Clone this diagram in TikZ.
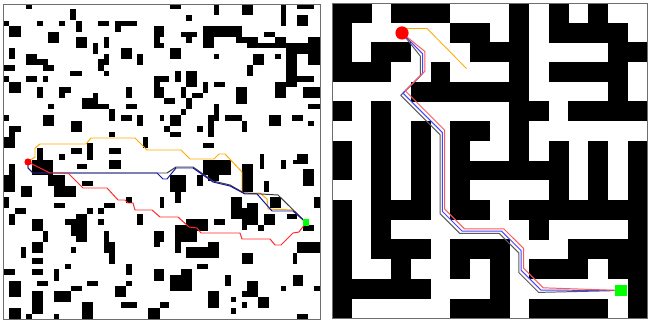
\documentclass[tikz,border=0pt]{standalone}
\usepackage{tikz}
\definecolor{PathOrange}{RGB}{255,170,0}
\definecolor{PathNavy}{RGB}{20,20,170}
\definecolor{PathGray}{RGB}{60,60,60}
\definecolor{PathRed}{RGB}{255,40,40}
\definecolor{MazeBlue}{RGB}{70,70,255}
\definecolor{MazeRed}{RGB}{255,90,90}
\definecolor{MazeGray}{RGB}{90,90,90}
\definecolor{StartRed}{RGB}{255,0,0}
\definecolor{GoalGreen}{RGB}{0,255,0}
\definecolor{FrameGray}{RGB}{110,110,110}

\begin{document}
\begin{tikzpicture}[
    x=0.025cm,y=-0.025cm,
    panelframe/.style={draw=FrameGray,line width=0.6pt},
    startdot/.style={circle,fill=StartRed,inner sep=0pt},
    goalbox/.style={rectangle,fill=GoalGreen,inner sep=0pt},
    route/.style={line width=0.7pt,line join=round}
  ]
  \useasboundingbox[fill=white] (0,0) rectangle (648,320);

  % left: random obstacles
  \foreach \xa/\ya/\xb/\yb in {
    26/4/32/9, 70/9/76/20, 3/21/9/26, 37/21/43/26, 59/21/65/26, 76/21/82/32,
    98/21/109/26, 115/21/137/26, 115/26/121/32, 9/26/21/37, 154/26/164/37,
    154/37/160/48, 48/32/59/43, 76/37/87/48, 104/37/109/48, 93/43/98/54,
    9/48/15/59, 121/48/132/59, 137/54/143/65, 26/54/37/65, 37/59/48/65,
    43/65/54/71, 104/54/109/65, 98/59/104/71, 3/65/15/71, 70/71/82/76,
    104/71/109/76, 3/76/9/82, 26/76/37/82, 43/76/48/82, 154/76/169/82,
    9/82/21/93, 154/82/160/98, 37/87/43/98, 59/87/65/98, 65/87/71/93,
    126/87/132/98, 93/93/98/104, 82/98/98/109, 98/104/109/109, 48/104/54/109,
    126/104/137/109, 109/109/115/121, 3/115/9/121, 43/115/54/126,
    121/115/132/121, 137/115/143/126, 71/121/82/132, 9/126/21/132,
    9/132/15/137, 3/137/15/148, 109/132/115/137, 143/137/148/148,
    87/143/93/160, 71/148/82/154, 109/148/121/154, 37/148/43/160,
    59/154/65/160,
    170/4/181/9, 214/4/219/15, 242/4/253/15, 281/4/286/26, 297/4/314/9,
    297/15/308/26, 186/15/192/21, 181/32/197/37, 186/37/192/43,
    203/26/242/37, 203/37/214/48, 236/37/258/43, 247/43/286/48,
    264/32/275/37, 275/37/286/43, 308/37/320/43, 160/43/164/48,
    170/48/181/59, 214/54/219/59, 253/54/264/65, 275/54/281/59,
    286/43/320/54, 286/54/297/87, 308/54/320/65, 297/76/314/82,
    247/65/253/76, 175/71/181/82, 186/71/197/87, 203/82/208/93,
    214/82/225/87, 160/87/164/98, 181/87/186/98, 192/93/203/98,
    236/87/247/104, 275/82/286/98, 303/87/320/98, 164/98/175/104,
    186/98/192/109, 181/109/186/115, 214/104/219/121, 208/115/214/137,
    308/104/320/109, 160/115/164/121, 170/115/181/126, 164/126/170/132,
    170/132/181/137, 225/115/242/121, 242/121/247/132, 269/115/281/126,
    292/115/303/121, 308/121/314/126, 197/126/203/132, 203/143/214/148,
    260/154/264/169, 297/154/308/164,
    32/160/53/175, 77/164/87/169, 109/160/121/169, 9/164/15/175,
    3/175/15/192, 48/175/65/186, 54/186/76/197, 82/181/93/186,
    21/186/32/197, 3/197/9/208, 54/203/65/208, 104/203/115/208,
    126/197/132/203, 87/208/93/214, 98/208/104/214, 9/214/15/225,
    15/208/26/214, 76/214/87/242, 65/219/76/225, 71/225/76/236,
    137/214/143/225, 32/219/43/231, 98/219/104/225, 43/231/48/242,
    104/231/109/253, 109/242/115/264, 154/231/160/247, 32/242/43/253,
    21/247/26/258, 71/247/76/253, 32/258/43/264, 65/264/71/269,
    126/264/132/275, 3/269/15/275, 32/269/43/275, 54/269/59/281,
    154/269/160/281, 37/281/48/286, 87/281/98/286, 9/281/21/297,
    126/281/132/286, 115/286/126/297, 71/286/82/291, 54/291/71/302,
    32/291/43/314, 121/302/137/308, 82/302/93/319, 9/308/21/319,
    26/314/32/319, 54/314/59/319, 148/308/160/319,
    203/160/231/175, 208/175/219/181, 281/160/286/169, 293/160/308/164,
    170/175/186/192, 175/192/181/203, 197/175/203/186, 242/164/253/192,
    264/181/269/192, 303/169/314/186, 160/197/164/208, 231/197/242/219,
    247/203/258/225, 242/208/247/230, 270/197/281/208, 314/197/320/208,
    264/214/275/225, 258/225/264/231, 287/214/297/219, 186/219/208/231,
    214/219/225/225, 175/225/197/242, 303/225/314/231, 160/231/164/242,
    297/242/320/253, 175/242/181/253, 186/247/219/258, 208/242/219/247,
    242/253/253/264, 293/253/297/264, 197/264/208/269, 160/269/164/281,
    170/275/192/291, 181/269/192/275, 225/275/231/286, 247/281/258/297,
    242/291/247/297, 293/275/303/286, 281/286/286/291, 314/286/320/291,
    208/291/219/308, 231/297/236/302, 242/302/247/308, 258/297/269/308,
    160/302/169/308, 231/308/236/314, 297/314/308/319}
    \fill (\xa,\ya) rectangle (\xb,\yb);

  % right: maze cells
  \foreach \cells [count=\j from 0] in {
    {1,1,0,1,1,1,0,0,0,1,0,1,0,1,0,0},
    {1,0,0,0,0,0,1,1,0,1,0,1,1,1,1,0},
    {1,0,1,1,0,0,0,1,1,1,0,0,0,0,1,1},
    {1,1,1,0,0,1,0,0,0,1,0,1,1,1,1,0},
    {0,0,0,0,1,1,1,1,1,1,0,0,0,0,1,0},
    {1,0,1,0,0,0,0,0,0,1,1,0,1,1,1,1},
    {0,0,1,0,1,0,1,1,0,1,0,0,0,0,0,0},
    {1,0,1,0,1,0,1,0,0,1,0,1,0,1,0,1},
    {1,0,1,0,1,0,1,1,1,1,1,1,0,1,0,1},
    {0,0,1,0,1,0,1,0,0,0,0,1,0,1,0,1},
    {1,0,1,1,1,0,1,1,0,1,1,1,1,1,1,1},
    {1,0,1,0,0,0,0,0,0,0,1,0,0,0,0,1},
    {1,0,1,1,1,0,1,1,1,0,0,0,1,1,1,1},
    {1,0,0,1,0,0,1,0,1,0,1,1,1,0,1,1},
    {1,1,1,1,1,0,0,0,1,0,0,0,0,0,0,1},
    {1,0,0,0,0,0,1,1,1,0,1,1,1,1,0,1}}{
    \foreach \c [count=\i from 0] in \cells {
      \ifnum\c=1
        \fill ({332+19.7*\i},{3+19.7*\j}) rectangle ++(19.9,19.9);
      \fi
    }
  }

  \draw[panelframe] (3.5,4) rectangle (320,319);
  \draw[panelframe] (332,3) rectangle (647.2,318.2);

  \coordinate (startL) at (28,162);
  \coordinate (goalL) at (306,222.5);
  \coordinate (startR) at (402,33);
  \coordinate (goalR) at (621,290.5);
  \coordinate (orangeEnd) at (466.5,68.5);

  % left: four planners
  \draw[route,PathOrange] (startL) -- (35,157) -- (35,148) -- (40,144)
    -- (86,144) -- (91,138) -- (135,138) -- (147,150) -- (181,150)
    -- (190,159) -- (214,159) -- (219,154) -- (225,154) -- (242,172)
    -- (242,193) -- (260,193) -- (267,199) -- (268,209) -- (293,210)
    -- (goalL);
  \draw[route,PathGray] (startL) -- (28,168) -- (33,173) -- (167,173)
    -- (176,167) -- (193,167) -- (213,181) -- (230,185) -- (244,193)
    -- (278,195) -- (goalL);
  \draw[route,PathNavy] (startL) -- (28,168) -- (33,173) -- (157,173)
    -- (163,179) -- (167,179) -- (176,168) -- (193,168) -- (213,182)
    -- (230,186) -- (245,194) -- (257,194) -- (272,211) -- (293,211)
    -- (goalL);
  \draw[route,PathRed] (startL) -- (50,173) -- (68,173) -- (83,188)
    -- (107,188) -- (118,200) -- (125,200) -- (128,203) -- (133,203)
    -- (135,210) -- (152,210) -- (160,217) -- (178,217) -- (189,227)
    -- (197,228) -- (201,233) -- (240,233) -- (242,239) -- (270,239)
    -- (275,245) -- (281,245) -- (293,233) -- (299,232) -- (goalL);

  % right: three planners on the maze
  \foreach \dx/\dy/\clr in {-2.3/2.3/MazeGray,0/0/MazeBlue,2.3/-2.3/MazeRed}
    \draw[route,draw=\clr,shift={(\dx,\dy)}] (startR) -- (422.6,53.8)
      -- (422.6,73.5) -- (403,93.1) -- (442.4,132.5) -- (442.4,211.4)
      -- (462.1,231.1) -- (501.5,231.1) -- (521.2,250.7) -- (521.2,270.4)
      -- (540.9,290.1) -- (goalR);
  \draw[route,PathOrange,line width=0.6pt] (startR) -- (406,28.5)
    -- (427,28.5) -- (orangeEnd);

  \node[startdot,minimum size=0.18cm] (startLdot) at (startL) {};
  \node[goalbox,minimum size=0.17cm] (goalLbox) at (goalL) {};
  \node[startdot,minimum size=0.33cm] (startRdot) at (startR) {};
  \node[goalbox,minimum size=0.28cm] (goalRbox) at (goalR) {};
\end{tikzpicture}
\end{document}
